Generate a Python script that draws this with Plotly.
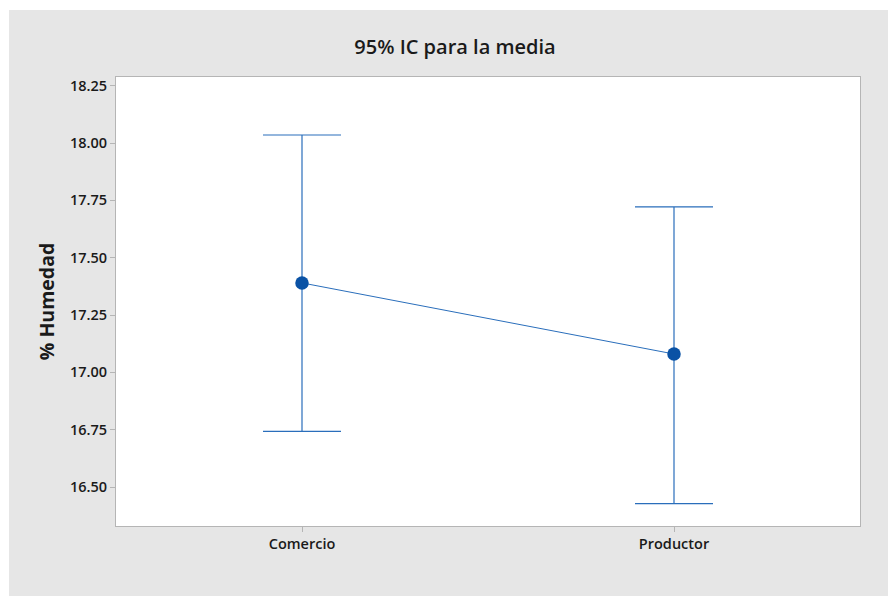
import plotly.graph_objects as go

categories = ["Comercio", "Productor"]
means = [17.39, 17.08]
upper = [18.035, 17.722]
lower = [16.743, 16.428]
ytick_vals = [16.50, 16.75, 17.00, 17.25, 17.50, 17.75, 18.00, 18.25]
ytick_text = ["16.50", "16.75", "17.00", "17.25", "17.50", "17.75", "18.00", "18.25"]

err_plus = [u - m for u, m in zip(upper, means)]
err_minus = [m - l for m, l in zip(means, lower)]

blue_line = "#2a6ebb"
blue_mark = "#0a52a5"
font_fam = "Open Sans, Noto Sans, sans-serif"

fig = go.Figure()
fig.add_trace(go.Scatter(
    x=categories, y=means, mode="lines+markers",
    line=dict(color=blue_line, width=1),
    marker=dict(color=blue_mark, size=13.5),
    error_y=dict(type="data", symmetric=False, array=err_plus, arrayminus=err_minus,
                 color=blue_line, thickness=1.2, width=39),
    showlegend=False,
))

W, H = 888, 596
ml, mr, mt, mb = 116, 28, 77, 70
pw = W - ml - mr
ph = H - mt - mb

def px_x(p):
    return (p - ml) / pw

def px_y(p):
    return (H - mb - p) / ph

fig.add_shape(type="rect", xref="paper", yref="paper",
              x0=px_x(9), x1=px_x(900), y0=px_y(610), y1=px_y(10),
              fillcolor="#e6e6e6", line=dict(width=0), layer="below")
fig.add_shape(type="rect", xref="paper", yref="paper",
              x0=0, x1=1, y0=0, y1=1,
              fillcolor="white", line=dict(width=0), layer="below")

fig.update_layout(
    width=W, height=H,
    margin=dict(l=ml, r=mr, t=mt, b=mb),
    paper_bgcolor="white", plot_bgcolor="white",
    title=dict(text="95% IC para la media", x=455 / W, xref="container", xanchor="center",
               y=1 - 47 / H, yref="container", yanchor="middle",
               font=dict(family=font_fam, size=20, color="#1a1a1a", weight=600)),
    font=dict(family=font_fam, color="#1a1a1a"),
)
fig.update_xaxes(
    type="category", range=[-0.5, 1.5],
    showline=True, linecolor="#b5b5b5", linewidth=1, mirror=True,
    ticks="outside", ticklen=5, tickcolor="#b5b5b5",
    showgrid=False, zeroline=False,
    tickfont=dict(family=font_fam, size=14.5, color="#1a1a1a", weight=600),
)
fig.update_yaxes(
    range=[16.33, 18.288],
    tickvals=ytick_vals, ticktext=ytick_text,
    showline=True, linecolor="#b5b5b5", linewidth=1, mirror=True,
    ticks="outside", ticklen=5, tickcolor="#b5b5b5",
    showgrid=False, zeroline=False,
    tickfont=dict(family=font_fam, size=14.5, color="#1a1a1a", weight=600),
    title=dict(text="% Humedad", standoff=10,
               font=dict(family=font_fam, size=19.5, color="#1a1a1a", weight=700)),
)

fig.write_html("out.html")
